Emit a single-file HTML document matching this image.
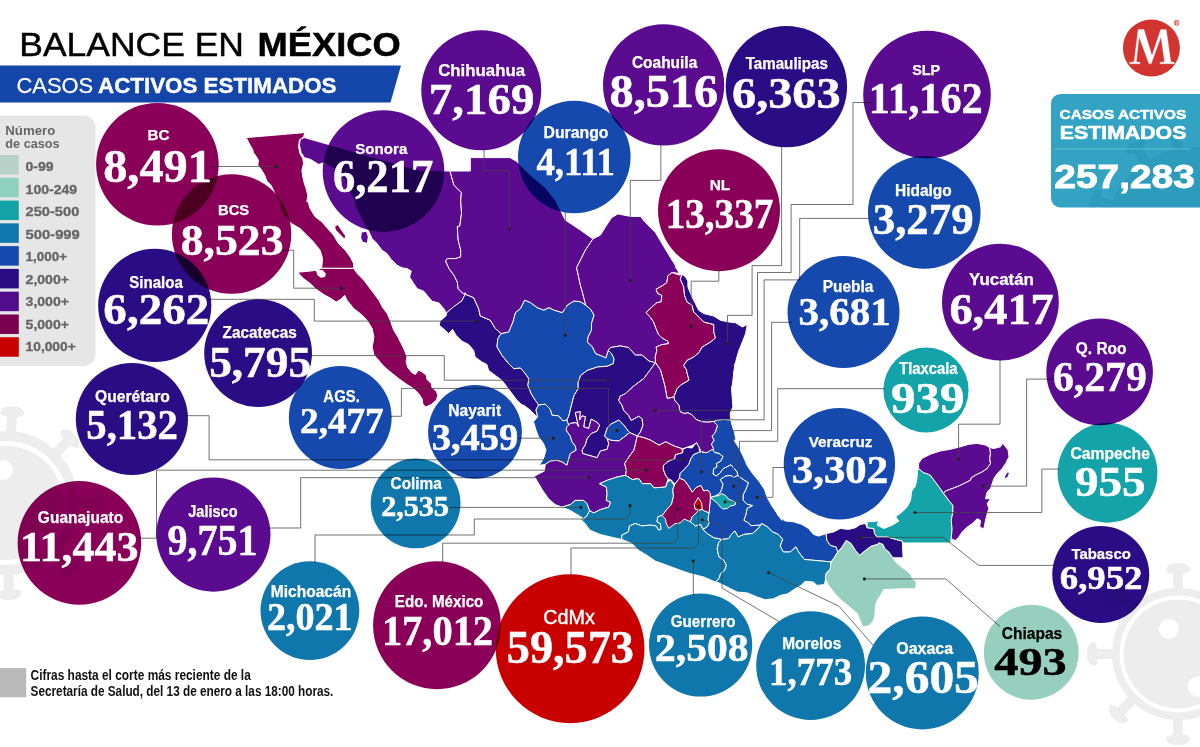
<!DOCTYPE html>
<html><head><meta charset="utf-8"><title>Balance en México</title>
<style>
html,body{margin:0;padding:0;background:#fff;}
body{width:1200px;height:747px;overflow:hidden;position:relative;font-family:"Liberation Sans",sans-serif;}
svg{position:absolute;left:0;top:0;}
.lab{font-family:"Liberation Sans",sans-serif;font-weight:bold;fill:#fff;text-anchor:middle;}
.num{font-family:"Liberation Serif",serif;font-weight:bold;fill:#fff;text-anchor:middle;stroke-width:0.5;}
.st{stroke:#fff;stroke-width:1.0;stroke-linejoin:round;}
.ln{fill:none;stroke:#444;stroke-width:0.75;}
.bub{mix-blend-mode:multiply;}
</style></head><body>
<svg width="1200" height="747" viewBox="0 0 1200 747">
<g id="deco">
<g fill="#ededed">
<circle cx="6" cy="503" r="67.0" fill="none" stroke="#ededed" stroke-width="10"/>
<circle cx="6" cy="503" r="57.0"/>
<g transform="translate(6,503) rotate(4)"><rect x="-5.0" y="-89" width="10" height="19"/><path d="M-12.0,-89 q0,-8 12.0,-8 q12.0,0 12.0,8 q-6.0,2.5 -7.0,2.5 h-10 q-6.0,0 -7.0,-2.5 z"/></g>
<g transform="translate(6,503) rotate(45)"><rect x="-5.0" y="-89" width="10" height="19"/><path d="M-12.0,-89 q0,-8 12.0,-8 q12.0,0 12.0,8 q-6.0,2.5 -7.0,2.5 h-10 q-6.0,0 -7.0,-2.5 z"/></g>
<g transform="translate(6,503) rotate(90)"><rect x="-5.0" y="-89" width="10" height="19"/><path d="M-12.0,-89 q0,-8 12.0,-8 q12.0,0 12.0,8 q-6.0,2.5 -7.0,2.5 h-10 q-6.0,0 -7.0,-2.5 z"/></g>
<g transform="translate(6,503) rotate(135)"><rect x="-5.0" y="-89" width="10" height="19"/><path d="M-12.0,-89 q0,-8 12.0,-8 q12.0,0 12.0,8 q-6.0,2.5 -7.0,2.5 h-10 q-6.0,0 -7.0,-2.5 z"/></g>
<g transform="translate(6,503) rotate(178)"><rect x="-5.0" y="-89" width="10" height="19"/><path d="M-12.0,-89 q0,-8 12.0,-8 q12.0,0 12.0,8 q-6.0,2.5 -7.0,2.5 h-10 q-6.0,0 -7.0,-2.5 z"/></g>
<g transform="translate(6,503) rotate(-45)"><rect x="-5.0" y="-89" width="10" height="19"/><path d="M-12.0,-89 q0,-8 12.0,-8 q12.0,0 12.0,8 q-6.0,2.5 -7.0,2.5 h-10 q-6.0,0 -7.0,-2.5 z"/></g>
</g>
<circle cx="3" cy="470" r="10" fill="#fff"/>
<circle cx="40" cy="540" r="8" fill="#fff"/>
<g fill="#ededed">
<circle cx="1178" cy="654" r="62.2" fill="none" stroke="#ededed" stroke-width="7.5"/>
<circle cx="1178" cy="654" r="54.5"/>
<g transform="translate(1178,654) rotate(0)"><rect x="-5.0" y="-83" width="10" height="19"/><path d="M-12.0,-83 q0,-8 12.0,-8 q12.0,0 12.0,8 q-6.0,2.5 -7.0,2.5 h-10 q-6.0,0 -7.0,-2.5 z"/></g>
<g transform="translate(1178,654) rotate(-45)"><rect x="-5.0" y="-83" width="10" height="19"/><path d="M-12.0,-83 q0,-8 12.0,-8 q12.0,0 12.0,8 q-6.0,2.5 -7.0,2.5 h-10 q-6.0,0 -7.0,-2.5 z"/></g>
<g transform="translate(1178,654) rotate(-90)"><rect x="-5.0" y="-83" width="10" height="19"/><path d="M-12.0,-83 q0,-8 12.0,-8 q12.0,0 12.0,8 q-6.0,2.5 -7.0,2.5 h-10 q-6.0,0 -7.0,-2.5 z"/></g>
<g transform="translate(1178,654) rotate(-135)"><rect x="-5.0" y="-83" width="10" height="19"/><path d="M-12.0,-83 q0,-8 12.0,-8 q12.0,0 12.0,8 q-6.0,2.5 -7.0,2.5 h-10 q-6.0,0 -7.0,-2.5 z"/></g>
<g transform="translate(1178,654) rotate(-180)"><rect x="-5.0" y="-83" width="10" height="19"/><path d="M-12.0,-83 q0,-8 12.0,-8 q12.0,0 12.0,8 q-6.0,2.5 -7.0,2.5 h-10 q-6.0,0 -7.0,-2.5 z"/></g>
<g transform="translate(1178,654) rotate(45)"><rect x="-5.0" y="-83" width="10" height="19"/><path d="M-12.0,-83 q0,-8 12.0,-8 q12.0,0 12.0,8 q-6.0,2.5 -7.0,2.5 h-10 q-6.0,0 -7.0,-2.5 z"/></g>
</g>
<circle cx="1169" cy="629" r="10" fill="#fff"/>
<circle cx="1197.7" cy="686.4" r="10" fill="#fff"/>
</g><g id="header">
<text x="19.3" y="56.3" font-family="Liberation Sans" font-size="33.5" fill="#000" stroke="#000" stroke-width="0.45" textLength="224.6" lengthAdjust="spacingAndGlyphs">BALANCE EN</text>
<text x="257.6" y="56.3" font-family="Liberation Sans" font-weight="bold" font-size="33.5" fill="#000" stroke="#000" stroke-width="0.5" textLength="143" lengthAdjust="spacingAndGlyphs">MÉXICO</text>
<polygon points="0,65.5 401,65.5 390.5,102.5 0,102.5" fill="#1446aa"/>
<text x="16.6" y="93" font-family="Liberation Sans" font-size="21.8" fill="#fff" stroke="#fff" stroke-width="0.25" textLength="76.5" lengthAdjust="spacingAndGlyphs">CASOS</text>
<text x="98" y="93" font-family="Liberation Sans" font-weight="bold" font-size="21.8" fill="#fff" stroke="#fff" stroke-width="0.4" textLength="238.5" lengthAdjust="spacingAndGlyphs">ACTIVOS ESTIMADOS</text>
</g>
<g id="legend"><path d="M0,115.5 H83.9 a11.6,11.6 0 0 1 11.6,11.6 V354.3 a11.6,11.6 0 0 1 -11.6,11.6 H0 Z" fill="#e6e6e6"/><text x="5.3" y="135" font-family="Liberation Sans" font-weight="bold" font-size="12.3" fill="#666" textLength="50" lengthAdjust="spacingAndGlyphs">Número</text><text x="5.3" y="147.6" font-family="Liberation Sans" font-weight="bold" font-size="12.3" fill="#666" textLength="54.4" lengthAdjust="spacingAndGlyphs">de casos</text><rect x="0" y="155.00" width="18.8" height="19.5" fill="#b7d1c8"/><text x="25.6" y="171.30" font-family="Liberation Sans" font-weight="bold" font-size="12.2" fill="#666" stroke="#666" stroke-width="0.3" textLength="28" lengthAdjust="spacingAndGlyphs">0-99</text><rect x="0" y="177.78" width="18.8" height="19.5" fill="#90d0bf"/><text x="25.6" y="193.77" font-family="Liberation Sans" font-weight="bold" font-size="12.2" fill="#666" stroke="#666" stroke-width="0.3" textLength="51.6" lengthAdjust="spacingAndGlyphs">100-249</text><rect x="0" y="200.56" width="18.8" height="19.5" fill="#13a3a8"/><text x="25.6" y="216.24" font-family="Liberation Sans" font-weight="bold" font-size="12.2" fill="#666" stroke="#666" stroke-width="0.3" textLength="53.7" lengthAdjust="spacingAndGlyphs">250-500</text><rect x="0" y="223.34" width="18.8" height="19.5" fill="#0f77ab"/><text x="25.6" y="238.71" font-family="Liberation Sans" font-weight="bold" font-size="12.2" fill="#666" stroke="#666" stroke-width="0.3" textLength="54.2" lengthAdjust="spacingAndGlyphs">500-999</text><rect x="0" y="246.12" width="18.8" height="19.5" fill="#1549ae"/><text x="25.6" y="261.18" font-family="Liberation Sans" font-weight="bold" font-size="12.2" fill="#666" stroke="#666" stroke-width="0.3" textLength="41.4" lengthAdjust="spacingAndGlyphs">1,000+</text><rect x="0" y="268.90" width="18.8" height="19.5" fill="#2a0c85"/><text x="25.6" y="283.65" font-family="Liberation Sans" font-weight="bold" font-size="12.2" fill="#666" stroke="#666" stroke-width="0.3" textLength="43.3" lengthAdjust="spacingAndGlyphs">2,000+</text><rect x="0" y="291.68" width="18.8" height="19.5" fill="#520b8a"/><text x="25.6" y="306.12" font-family="Liberation Sans" font-weight="bold" font-size="12.2" fill="#666" stroke="#666" stroke-width="0.3" textLength="43.3" lengthAdjust="spacingAndGlyphs">3,000+</text><rect x="0" y="314.46" width="18.8" height="19.5" fill="#7a0050"/><text x="25.6" y="328.59" font-family="Liberation Sans" font-weight="bold" font-size="12.2" fill="#666" stroke="#666" stroke-width="0.3" textLength="43.3" lengthAdjust="spacingAndGlyphs">5,000+</text><rect x="0" y="337.24" width="18.8" height="19.5" fill="#c80000"/><text x="25.6" y="351.06" font-family="Liberation Sans" font-weight="bold" font-size="12.2" fill="#666" stroke="#666" stroke-width="0.3" textLength="50.1" lengthAdjust="spacingAndGlyphs">10,000+</text></g>
<g id="map"><polygon class="st" fill="#8a0058" points="246.2,137.6 250.0,145.1 252.6,149.3 253.4,152.6 255.9,156.0 258.4,160.2 257.9,165.2 261.8,170.2 265.1,176.1 266.8,181.1 271.0,185.3 273.5,190.3 276.0,196.2 279.3,202.0 281.0,210.4 285.2,217.1 291.9,223.8 300.0,228.5 306.7,235.1 313.4,241.8 320.1,250.2 322.6,258.6 321.8,266.9 320.9,268.3 353.9,268.3 353.6,263.6 350.2,256.9 345.2,250.2 338.5,243.5 333.5,235.1 327.6,228.5 321.8,221.8 315.1,216.7 310.0,208.4 307.5,200.0 306.9,202.0 307.8,195.3 306.1,188.6 304.4,183.6 302.8,176.9 301.9,170.2 303.6,163.5 302.8,158.5 299.9,153.5 298.6,146.8 299.4,140.1 303.6,136.7 304.9,132.6"/><polygon class="st" fill="#8a0058" points="320.9,268.3 316.7,270.3 310.0,271.1 300.0,272.0 297.7,272.3 303.6,278.5 310.3,283.6 315.3,288.6 323.7,294.4 331.2,298.6 336.2,302.0 340.4,299.5 344.6,295.3 347.1,300.3 353.8,308.7 360.5,313.7 367.2,320.4 372.2,328.7 373.9,337.1 372.2,347.2 373.9,355.0 378.5,360.1 383.5,366.0 390.2,371.8 398.6,378.5 406.9,384.4 413.6,388.6 418.7,393.6 422.0,398.6 422.8,403.6 425.4,407.0 431.2,404.5 436.2,400.3 437.9,395.3 436.2,391.1 432.1,387.7 431.2,383.6 427.0,379.4 426.2,375.2 422.0,371.8 418.7,370.2 415.3,374.4 412.0,372.7 407.8,367.7 406.1,361.8 406.9,356.8 404.4,350.1 401.1,343.4 397.7,336.7 393.6,330.0 390.6,321.2 387.3,313.7 382.3,307.0 378.9,300.3 373.9,293.6 368.9,286.9 363.8,280.2 357.2,273.5 353.8,268.5"/><polygon class="st" fill="#5a0b8f" points="300.3,139.2 304.4,137.6 420.2,170.6 450.1,171.0 450.1,171.3 453.9,185.1 461.4,192.6 460.7,200.0 461.5,213.4 459.8,225.9 457.3,226.8 458.2,240.2 460.7,250.2 460.7,256.9 455.6,258.6 447.3,258.6 445.6,261.1 449.0,268.6 454.0,275.3 457.3,282.0 458.2,288.7 463.2,293.7 465.7,292.9 462.3,300.4 454.0,307.1 446.4,313.0 443.9,308.8 438.9,302.9 432.2,301.3 427.2,295.4 423.8,291.2 417.2,288.7 413.8,283.7 409.6,277.0 411.3,271.1 407.1,268.6 402.1,267.8 397.1,265.3 391.2,259.4 387.0,253.6 382.0,250.2 377.0,243.5 372.0,238.5 368.6,231.0 364.7,225.4 360.5,217.1 355.5,207.0 353.8,198.7 348.8,190.3 343.8,178.6 333.7,168.5 323.7,162.7 318.7,164.4 310.3,159.3 304.4,157.7 301.1,152.6 299.4,145.1 300.3,139.2"/><polygon class="st" fill="#2a0c85" points="465.2,294.2 473.6,297.6 478.6,308.5 480.3,316.0 490.3,320.2 495.3,328.5 501.2,333.6 497.8,338.6 497.0,346.9 502.0,355.3 508.7,363.7 513.7,368.7 520.4,367.9 525.4,373.7 528.8,378.7 527.9,385.4 531.3,393.8 535.5,400.5 540.5,405.0 538.5,405.0 536.0,410.0 537.7,416.7 536.0,415.9 530.1,410.0 523.4,405.0 522.1,405.0 517.1,400.5 512.1,393.8 507.0,387.1 502.0,380.4 495.3,375.4 488.6,370.4 486.9,364.5 481.9,362.0 475.2,357.0 473.6,350.3 468.5,344.4 461.8,341.1 456.0,335.2 452.6,329.4 448.5,333.6 445.1,330.2 439.2,325.2 440.1,321.0 445.9,316.0 446.8,312.6 453.5,306.8 461.8,300.9 465.2,294.2"/><polygon class="st" fill="#1549ae" points="501.2,333.6 508.7,331.9 512.9,321.8 515.4,312.6 520.4,308.5 524.6,300.1 530.5,302.6 537.2,307.6 543.8,310.1 548.9,307.6 553.9,310.1 562.3,312.6 567.3,305.1 574.0,300.9 580.7,301.8 585.7,305.1 590.7,309.3 594.1,315.1 591.5,323.5 591.5,330.2 588.2,336.9 587.4,341.9 592.4,346.9 595.7,353.6 602.4,356.2 605.8,357.8 608.3,350.3 611.6,353.6 614.1,358.7 613.3,363.7 607.4,366.2 597.4,367.0 587.4,370.4 580.7,375.4 578.2,382.1 578.2,388.8 574.0,395.5 571.5,405.0 571.5,405.0 570.3,410.0 568.6,416.7 566.9,420.1 562.8,420.9 558.6,415.9 551.9,415.1 550.2,409.2 545.2,404.2 538.5,405.0 535.5,400.5 531.3,393.8 527.9,385.4 528.8,378.7 525.4,373.7 520.4,367.9 513.7,368.7 508.7,363.7 502.0,355.3 497.0,346.9 497.8,338.6 501.2,333.6"/><polygon class="st" fill="#5a0b8f" points="450.1,171.0 470.3,171.0 470.3,157.6 510.0,157.6 516.5,161.3 530.3,175.0 545.3,187.6 555.3,200.1 565.3,220.1 580.4,230.1 592.9,238.9 585.4,250.2 576.6,267.7 580.4,285.2 582.3,291.7 585.7,305.1 580.7,301.8 574.0,300.9 567.3,305.1 562.3,312.6 553.9,310.1 548.9,307.6 543.8,310.1 537.2,307.6 530.5,302.6 524.6,300.1 520.4,308.5 515.4,312.6 512.9,321.8 508.7,331.9 501.2,333.6 495.3,328.5 490.3,320.2 480.3,316.0 478.6,308.5 473.6,297.6 465.2,294.2 465.7,292.9 463.2,293.7 458.2,288.7 457.3,282.0 454.0,275.3 449.0,268.6 445.6,261.1 447.3,258.6 455.6,258.6 460.7,256.9 460.7,250.2 458.2,240.2 457.3,226.8 459.8,225.9 461.5,213.4 460.7,200.0 461.4,192.6 453.9,185.1 450.1,171.3"/><polygon class="st" fill="#5a0b8f" points="592.9,238.9 600.4,235.1 606.6,225.1 611.7,217.6 617.9,213.9 630.4,216.4 640.5,216.4 645.5,222.6 655.5,232.6 663.0,245.2 670.5,257.7 680.0,272.7 675.3,266.7 679.5,273.4 672.0,272.6 667.8,275.9 666.9,282.6 661.9,286.0 656.1,289.3 657.7,293.5 661.9,295.2 661.1,301.9 656.9,302.7 651.9,306.9 646.0,312.8 650.2,316.9 653.6,322.0 656.1,328.7 658.6,334.5 661.9,337.9 667.8,341.2 668.6,343.7 661.9,344.6 656.1,347.1 656.9,350.4 655.2,357.1 656.1,363.8 648.8,361.0 642.1,355.1 635.4,355.1 628.7,347.6 620.3,345.9 610.3,347.6 608.3,350.3 605.8,357.8 602.4,356.2 595.7,353.6 592.4,346.9 587.4,341.9 588.2,336.9 591.5,330.2 591.5,323.5 594.1,315.1 590.7,309.3 585.7,305.1 582.3,291.7 580.4,285.2 576.6,267.7 585.4,250.2 592.9,238.9"/><polygon class="st" fill="#8a0058" points="672.0,272.6 679.5,275.1 682.0,274.3 680.3,279.3 683.7,286.8 684.5,295.2 687.0,301.9 692.1,305.2 693.7,311.9 698.7,316.9 703.8,322.0 713.8,324.5 713.8,332.0 715.5,337.9 710.5,342.1 702.1,347.1 698.7,352.9 693.7,357.1 687.0,360.5 683.7,365.5 687.0,370.5 686.4,370.2 689.0,380.2 680.6,385.2 677.2,388.6 673.9,396.9 667.2,398.6 664.7,385.2 660.5,370.2 655.5,362.6 655.2,357.1 656.9,350.4 656.1,347.1 661.9,344.6 668.6,343.7 667.8,341.2 661.9,337.9 658.6,334.5 656.1,328.7 653.6,322.0 650.2,316.9 646.0,312.8 651.9,306.9 656.9,302.7 661.1,301.9 661.9,295.2 657.7,293.5 656.1,289.3 661.9,286.0 666.9,282.6 667.8,275.9 672.0,272.6"/><polygon class="st" fill="#2a0c85" points="682.0,274.3 685.4,276.8 687.9,281.0 687.9,286.8 691.2,295.2 695.4,303.6 698.7,310.3 703.8,313.6 713.8,316.1 720.5,320.3 728.9,322.0 735.6,322.8 742.3,327.0 747.3,324.5 745.6,333.7 742.3,342.1 738.9,350.4 736.4,358.8 734.7,367.2 733.9,375.0 735.0,363.5 732.5,383.6 732.5,396.9 733.6,380.0 731.5,388.0 732.2,397.4 732.9,406.8 730.2,413.5 730.9,420.2 724.2,419.5 717.5,420.2 713.5,421.5 706.8,422.2 701.4,421.5 696.1,419.5 692.0,414.8 688.0,412.8 684.0,413.5 680.0,411.5 678.9,405.3 674.7,400.3 673.9,396.9 677.2,388.6 680.6,385.2 689.0,380.2 686.4,370.2 687.0,370.5 683.7,365.5 687.0,360.5 693.7,357.1 698.7,352.9 702.1,347.1 710.5,342.1 715.5,337.9 713.8,332.0 713.8,324.5 703.8,322.0 698.7,316.9 693.7,311.9 692.1,305.2 687.0,301.9 684.5,295.2 683.7,286.8 680.3,279.3 682.0,274.3"/><polygon class="st" fill="#2a0c85" points="610.3,347.6 620.3,345.9 628.7,347.6 635.4,355.1 642.1,355.1 648.8,361.0 655.5,362.6 648.8,371.8 643.8,378.5 633.7,386.1 625.4,393.6 620.3,396.1 618.7,400.3 622.0,405.3 623.7,410.3 628.7,415.4 631.2,420.4 638.7,416.2 642.1,418.7 642.9,425.4 640.4,432.1 637.2,436.0 629.7,432.6 628.9,431.8 623.8,425.1 618.8,420.1 610.5,424.3 607.1,428.5 604.6,436.0 607.1,438.5 608.8,443.5 607.1,449.4 600.4,451.0 597.1,457.7 582.8,453.6 582.0,450.2 585.4,444.4 587.0,438.5 591.2,433.5 597.1,431.0 599.6,425.1 596.2,421.8 591.2,419.2 588.7,428.5 583.7,426.8 585.4,416.7 582.0,415.9 579.5,420.1 580.3,411.7 575.3,412.6 578.7,426.8 576.2,422.6 570.3,423.4 566.9,426.8 568.6,425.1 566.9,420.1 568.6,416.7 570.3,410.0 571.5,405.0 574.0,395.5 578.2,388.8 578.2,382.1 580.7,375.4 587.4,370.4 597.4,367.0 607.4,366.2 613.3,363.7 614.1,358.7 611.6,353.6 608.3,350.3"/><polygon class="st" fill="#1549ae" points="604.6,436.0 607.1,428.5 610.5,424.3 618.8,420.1 623.8,425.1 628.9,431.8 629.7,432.6 625.5,436.0 618.8,441.0 610.5,440.2 607.1,438.5"/><polygon class="st" fill="#5a0b8f" points="655.5,362.6 660.5,370.2 664.7,385.2 667.2,398.6 673.9,396.9 674.7,400.3 678.9,405.3 680.0,411.5 684.0,413.5 688.0,412.8 692.0,414.8 696.1,419.5 701.4,421.5 706.8,422.2 713.5,421.5 717.5,425.5 715.5,432.2 712.1,436.2 714.1,440.2 711.5,444.3 713.5,448.3 712.8,451.0 706.8,453.0 701.4,451.6 698.7,446.9 696.7,442.9 692.0,445.6 688.0,446.9 684.0,448.3 680.0,449.6 681.6,448.5 674.1,446.0 665.7,441.8 659.0,445.2 650.6,440.2 643.9,437.7 637.2,436.0 640.4,432.1 642.9,425.4 642.1,418.7 638.7,416.2 631.2,420.4 628.7,415.4 623.7,410.3 622.0,405.3 618.7,400.3 620.3,396.1 625.4,393.6 633.7,386.1 643.8,378.5 648.8,371.8 655.5,362.6"/><polygon class="st" fill="#1549ae" points="538.5,405.0 545.2,404.2 550.2,409.2 551.9,415.1 558.6,415.9 562.8,420.9 566.9,420.1 568.6,425.1 566.1,430.1 570.3,436.0 572.0,441.8 575.3,446.0 576.2,450.2 570.3,453.6 568.6,459.4 566.9,465.3 561.9,461.9 556.9,460.3 550.2,461.1 545.2,464.4 539.3,465.3 543.5,458.6 546.0,450.2 543.5,443.5 538.5,436.8 536.0,430.1 533.5,421.8 537.7,416.7 536.0,410.0"/><polygon class="st" fill="#5a0b8f" points="566.9,426.8 570.3,423.4 576.2,422.6 578.7,426.8 575.3,412.6 580.3,411.7 579.5,420.1 582.0,415.9 585.4,416.7 583.7,426.8 588.7,428.5 591.2,419.2 596.2,421.8 599.6,425.1 597.1,431.0 591.2,433.5 587.0,438.5 585.4,444.4 582.0,450.2 582.8,453.6 597.1,457.7 600.4,451.0 607.1,449.4 608.8,443.5 607.1,438.5 610.5,440.2 618.8,441.0 625.5,436.0 629.7,432.6 637.2,436.0 635.6,443.5 633.9,450.2 628.9,456.9 624.7,463.6 626.4,470.3 625.5,475.3 617.2,477.0 607.1,480.3 599.6,483.7 606.3,487.0 607.1,493.7 606.3,500.4 610.5,502.1 608.8,507.1 600.4,509.6 593.7,513.0 589.5,510.5 587.0,503.8 583.7,500.4 575.3,500.4 570.3,504.6 561.9,507.1 555.2,504.6 548.5,498.7 542.7,490.4 537.7,482.0 534.3,476.2 539.3,473.6 544.4,471.1 545.2,464.4 550.2,461.1 556.9,460.3 561.9,461.9 566.9,465.3 568.6,459.4 570.3,453.6 576.2,450.2 575.3,446.0 572.0,441.8 570.3,436.0 566.1,430.1"/><polygon class="st" fill="#8a0058" points="637.2,436.0 643.9,437.7 650.6,440.2 659.0,445.2 665.7,441.8 674.1,446.0 681.6,448.5 682.8,452.7 675.5,454.7 674.8,458.7 668.1,461.4 663.4,465.4 663.4,469.5 665.4,474.8 668.1,478.8 665.7,487.0 654.0,487.9 650.6,483.7 642.3,483.7 638.9,478.7 632.2,479.5 625.5,475.3 626.4,470.3 624.7,463.6 628.9,456.9 633.9,450.2 635.6,443.5"/><polygon class="st" fill="#2a0c85" points="682.8,449.4 686.9,447.4 692.2,448.0 696.2,442.7 698.9,446.7 699.6,452.0 693.6,454.7 690.9,458.7 688.9,464.1 684.2,469.5 680.2,473.5 679.5,478.2 674.8,484.2 671.5,480.2 668.1,478.8 665.4,474.8 663.4,469.5 663.4,465.4 668.1,461.4 674.8,458.7 675.5,454.7 682.8,452.7"/><polygon class="st" fill="#0f77ab" points="599.6,483.7 607.1,480.3 617.2,477.0 625.5,475.3 632.2,479.5 638.9,478.7 642.3,483.7 650.6,483.7 654.0,487.9 665.7,487.0 667.4,482.0 670.7,480.3 674.1,485.4 674.8,484.2 672.8,489.5 673.5,496.2 671.5,504.3 666.8,509.6 662.1,515.6 657.8,516.8 657.0,521.8 660.3,523.5 661.2,529.3 658.7,530.2 656.2,526.0 650.3,525.1 641.9,526.0 635.2,523.5 629.4,526.0 628.5,531.8 621.8,535.2 621.8,539.4 613.5,537.7 600.1,534.4 590.0,530.2 585.0,523.5 580.0,518.5 583.7,518.8 587.0,515.5 589.5,510.5 593.7,513.0 600.4,509.6 608.8,507.1 610.5,502.1 606.3,500.4 607.1,493.7 606.3,487.0"/><polygon class="st" fill="#0f77ab" points="561.9,507.1 570.3,504.6 575.3,500.4 583.7,500.4 587.0,503.8 589.5,510.5 587.0,515.5 583.7,518.8 578.7,515.5 570.3,510.5"/><polygon class="st" fill="#0f77ab" points="621.8,539.4 621.8,535.2 628.5,531.8 629.4,526.0 635.2,523.5 641.9,526.0 650.3,525.1 656.2,526.0 658.7,530.2 661.2,529.3 660.3,523.5 657.0,521.8 657.8,516.8 662.8,515.1 667.0,520.1 668.7,527.7 673.7,523.5 680.4,520.1 685.4,518.5 690.5,521.8 695.5,526.0 700.5,524.3 703.0,529.3 707.2,533.5 713.9,537.7 722.3,539.4 718.9,541.9 717.2,548.6 718.9,556.9 723.9,560.3 726.4,565.3 724.8,570.3 720.6,573.7 718.9,578.7 715.6,582.1 703.8,577.0 690.5,573.7 680.4,570.3 667.0,565.3 655.3,561.1 646.9,555.3 638.6,550.3 631.9,543.6"/><polygon class="st" fill="#1549ae" points="730.9,420.2 732.2,425.5 734.2,432.2 736.2,440.2 733.7,440.0 739.1,448.0 743.1,456.1 747.1,465.4 752.5,473.5 759.2,481.5 764.5,489.5 767.2,497.6 772.5,506.9 779.2,516.3 781.9,520.3 767.5,496.7 773.4,506.8 778.4,516.0 785.1,521.0 793.5,521.8 801.8,524.4 808.5,528.5 813.6,534.4 818.6,536.1 826.1,533.6 826.9,540.3 830.3,545.3 836.2,546.9 837.8,552.0 833.6,558.7 831.1,562.0 823.6,561.2 813.6,560.3 804.4,559.5 801.0,555.3 797.7,550.3 796.0,546.9 790.1,552.0 783.4,552.0 780.1,546.1 782.6,539.4 778.4,534.4 772.6,531.9 767.5,526.9 761.7,523.5 760.8,525.1 751.1,525.7 748.4,523.0 743.8,520.3 745.8,515.0 747.1,508.3 752.5,505.6 747.1,504.3 743.1,500.2 743.1,494.9 745.8,489.5 748.4,482.8 743.1,479.5 737.7,475.5 737.1,472.1 733.7,468.1 731.0,464.8 727.0,466.8 723.0,468.8 720.3,472.8 716.3,476.1 713.0,474.1 713.6,468.8 717.0,466.8 716.3,463.4 720.3,461.4 723.0,456.7 719.0,453.4 715.0,452.7 712.3,449.4 712.8,451.0 713.5,448.3 711.5,444.3 714.1,440.2 712.1,436.2 715.5,432.2 717.5,425.5 713.5,421.5 717.5,420.2 724.2,419.5"/><polygon class="st" fill="#1549ae" points="699.6,452.0 706.9,452.7 712.3,449.4 715.0,452.7 719.0,453.4 723.0,456.7 720.3,461.4 716.3,463.4 717.0,466.8 713.6,468.8 713.0,474.1 716.3,476.1 720.3,472.8 723.0,468.8 727.0,466.8 731.0,464.8 733.7,468.1 737.1,472.1 737.7,475.5 733.7,477.5 731.0,475.5 725.7,476.1 720.3,479.5 723.0,484.2 721.7,489.5 719.7,493.6 715.0,496.2 710.3,497.6 710.3,493.6 707.6,490.2 703.6,490.9 700.9,485.5 696.2,487.5 692.2,492.2 688.2,485.5 684.2,480.2 679.5,478.2 680.2,473.5 684.2,469.5 688.9,464.1 690.9,458.7 693.6,454.7"/><polygon class="st" fill="#1549ae" points="720.3,479.5 725.7,476.1 731.0,475.5 733.7,477.5 737.7,475.5 743.1,479.5 748.4,482.8 745.8,489.5 743.1,494.9 743.1,500.2 747.1,504.3 752.5,505.6 747.1,508.3 745.8,515.0 743.8,520.3 748.4,523.0 751.1,525.7 760.8,525.1 757.4,529.3 752.4,533.5 744.0,534.4 738.2,536.9 734.8,531.0 730.6,535.2 729.0,538.5 722.3,539.4 713.9,537.7 707.2,533.5 703.0,529.3 707.2,526.8 708.9,523.5 708.0,518.5 708.9,513.4 709.0,513.0 709.6,506.9 710.3,498.9 710.3,497.6 715.0,496.2 719.7,493.6 721.7,489.5 723.0,484.2"/><polygon class="st" fill="#8a0058" points="679.5,478.2 684.2,480.2 688.2,485.5 692.2,492.2 696.2,487.5 700.9,485.5 703.6,490.9 707.6,490.2 710.3,493.6 710.3,498.9 709.6,506.9 709.0,513.0 704.3,511.0 702.3,509.6 698.9,510.3 697.2,511.8 692.1,516.9 690.5,521.8 684.2,519.0 680.2,523.0 674.8,523.7 668.8,528.4 666.1,523.0 665.4,519.0 662.1,515.6 666.8,509.6 671.5,504.3 673.5,496.2 672.8,489.5 674.8,484.2"/><polygon class="st" fill="#c80000" points="698.2,497.6 701.6,502.9 702.3,509.6 698.9,510.3 694.9,509.0 694.2,504.3"/><polygon class="st" fill="#0f77ab" points="690.5,521.8 692.1,516.8 697.2,511.8 698.9,510.3 702.3,509.6 704.3,511.0 709.0,513.0 708.9,513.4 708.0,518.5 708.9,523.5 707.2,526.8 703.0,529.3 700.5,524.3 695.5,526.0"/><polygon class="st" fill="#13a3a8" points="710.3,497.6 715.0,496.2 719.0,495.6 721.7,493.6 725.7,495.6 728.4,498.9 732.4,500.9 735.7,502.3 735.1,504.9 729.7,506.3 727.7,508.3 723.0,509.0 720.3,506.9 717.0,502.9 713.6,500.2"/><polygon class="st" fill="#0f77ab" points="718.9,541.9 722.3,539.4 729.0,538.5 730.6,535.2 734.8,531.0 738.2,536.9 744.0,534.4 752.4,533.5 757.4,529.3 760.8,525.1 761.7,523.5 767.5,526.9 772.6,531.9 778.4,534.4 782.6,539.4 780.1,546.1 783.4,552.0 790.1,552.0 796.0,546.9 797.7,550.3 801.0,555.3 804.4,559.5 813.6,560.3 823.6,561.2 831.1,562.0 830.3,568.7 826.1,573.7 825.3,580.4 824.4,584.6 816.9,585.4 813.6,582.1 805.2,581.3 801.0,585.4 795.1,588.8 787.6,593.8 780.1,595.5 773.4,598.8 765.0,599.7 757.4,597.1 747.4,592.9 737.3,592.1 727.3,587.1 718.9,582.9 715.6,582.1 718.9,578.7 720.6,573.7 724.8,570.3 726.4,565.3 723.9,560.3 718.9,556.9 717.2,548.6"/><polygon class="st" fill="#97cfbe" points="831.1,562.0 833.6,558.7 837.8,552.0 842.0,546.9 846.2,540.3 851.2,543.6 855.4,550.3 859.6,555.3 865.4,550.3 871.3,546.1 877.2,544.4 878.8,542.8 883.0,544.4 884.7,548.6 888.9,552.0 892.2,557.0 895.6,562.0 900.6,566.2 907.3,571.2 911.5,575.4 912.3,578.7 916.5,582.1 915.6,588.8 902.3,588.8 883.8,589.6 880.5,595.5 877.2,600.5 875.5,605.0 874.8,616.4 872.8,621.8 868.8,625.8 862.8,627.1 857.4,613.7 848.0,605.7 840.0,599.0 833.6,592.1 828.6,585.4 826.1,580.4 825.3,577.1 826.1,573.7 830.3,568.7"/><polygon class="st" fill="#2a0c85" points="826.1,533.6 833.6,531.9 840.3,528.5 848.7,529.4 855.4,527.7 860.4,524.4 865.4,523.5 867.1,527.7 873.8,528.5 874.6,533.6 877.2,536.9 887.2,536.9 902.3,541.1 903.1,557.8 893.9,557.8 892.2,557.0 888.9,552.0 884.7,548.6 883.0,544.4 878.8,542.8 877.2,544.4 871.3,546.1 865.4,550.3 859.6,555.3 855.4,550.3 851.2,543.6 846.2,540.3 842.0,546.9 837.8,552.0 836.2,546.9 830.3,545.3 826.9,540.3"/><polygon class="st" fill="#13a3a8" points="918.6,468.5 923.6,472.7 926.9,473.6 930.3,475.2 935.3,481.9 940.3,488.6 943.7,493.6 948.7,500.3 952.9,505.4 952.9,512.1 951.2,520.4 952.1,528.8 951.2,538.8 950.4,543.0 926.9,543.0 903.5,543.0 902.3,541.1 887.2,536.9 877.2,536.9 874.6,533.6 873.8,528.5 867.1,527.7 867.1,521.8 878.8,521.0 877.2,525.2 883.8,528.5 892.2,525.2 898.9,521.0 895.6,516.8 902.3,511.8 907.3,506.8 910.6,500.1 911.5,491.7 915.6,485.0 915.2,486.9 916.9,478.6 917.7,470.2"/><polygon class="st" fill="#5a0b8f" points="918.6,463.5 921.9,458.5 930.3,454.3 940.3,451.0 950.4,449.3 960.4,446.8 968.8,444.3 977.2,443.4 985.5,445.1 989.7,447.6 990.5,453.5 989.7,458.5 990.5,463.5 987.2,468.5 982.2,471.9 975.5,475.2 971.3,477.7 970.5,480.3 965.4,482.8 958.7,486.1 952.1,488.6 945.4,491.1 943.7,493.6 940.3,488.6 935.3,481.9 930.3,475.2 926.9,473.6 923.6,472.7 918.6,468.5"/><polygon class="st" fill="#5a0b8f" points="989.7,447.6 993.9,448.5 1000.6,446.8 1002.3,443.4 1005.6,446.8 1008.1,450.1 1009.0,456.8 1005.6,463.5 1002.3,468.5 997.2,473.6 993.9,478.6 992.2,483.6 990.5,488.6 987.2,492.0 985.5,498.7 990.5,498.7 987.2,503.7 988.9,508.7 987.2,513.7 985.5,520.4 983.8,528.8 979.7,527.1 980.5,520.4 977.2,518.7 972.1,523.8 967.1,527.1 962.1,532.1 958.7,537.2 955.4,540.5 951.2,538.8 952.1,528.8 951.2,520.4 952.9,512.1 952.9,505.4 948.7,500.3 943.7,493.6 945.4,491.1 952.1,488.6 958.7,486.1 965.4,482.8 970.5,480.3 971.3,477.7 975.5,475.2 982.2,471.9 987.2,468.5 990.5,463.5 989.7,458.5 990.5,453.5"/><polygon fill="#8a0058" points="335.1,226.8 337.7,225.1 341.0,230.1 345.2,236.0 344.4,238.5 340.2,234.3 336.0,230.1"/><polygon fill="#5a0b8f" points="361.9,232.6 366.1,231.8 367.8,236.8 366.9,242.7 362.8,241.8 361.1,237.7"/><polygon fill="#5a0b8f" points="1004.8,476.9 1007.3,472.7 1009.0,472.7 1007.3,476.9 1005.3,478.1"/><polygon fill="#fff" points="315.9,271.1 318.4,269.5 322.6,270.3 325.9,273.6 325.1,277.0 320.9,277.8 317.6,275.3"/></g>
<g id="lines"><polyline class="ln" points="276.0,166.5 211.0,166.5"/><circle cx="276" cy="166.5" r="1.6" fill="#222"/><polyline class="ln" points="341.3,288.2 293.7,288.2 293.7,250.2 282.0,250.2"/><circle cx="341.3" cy="288.2" r="1.6" fill="#222"/><polyline class="ln" points="476.1,321.1 314.3,321.1 314.3,299.3 209.0,299.3"/><circle cx="476.1" cy="321.1" r="1.6" fill="#222"/><polyline class="ln" points="608.3,380.2 444.3,380.2 444.3,355.6 310.0,355.6"/><circle cx="608.3" cy="380.2" r="1.6" fill="#222"/><polyline class="ln" points="683.3,459.8 209.1,459.8 209.1,415.7 186.0,415.7"/><circle cx="683.3" cy="459.8" r="1.6" fill="#222"/><polyline class="ln" points="646.0,470.2 156.5,470.2 156.5,538.2 139.0,538.2"/><circle cx="646" cy="470.2" r="1.6" fill="#222"/><polyline class="ln" points="589.0,477.7 300.7,477.7 300.7,528.0 268.0,528.0"/><circle cx="589" cy="477.7" r="1.6" fill="#222"/><polyline class="ln" points="617.0,430.4 608.6,430.4 608.6,388.4 401.4,388.4 401.4,416.3 390.0,416.3"/><circle cx="617" cy="430.4" r="1.6" fill="#222"/><polyline class="ln" points="553.4,438.2 518.0,438.2"/><circle cx="553.4" cy="438.2" r="1.6" fill="#222"/><polyline class="ln" points="580.7,507.4 450.0,507.4"/><circle cx="580.7" cy="507.4" r="1.6" fill="#222"/><polyline class="ln" points="630.0,505.7 630.0,515.0 626.0,519.0 474.3,519.0 474.3,535.0 315.0,535.0 315.0,563.0"/><circle cx="630" cy="505.7" r="1.6" fill="#222"/><polyline class="ln" points="677.7,509.1 677.7,538.3 673.0,543.2 442.7,543.2 442.7,563.0"/><circle cx="677.7" cy="509.1" r="1.6" fill="#222"/><polyline class="ln" points="698.5,506.7 698.5,543.5 694.5,548.0 571.0,548.0 571.0,576.0"/><circle cx="698.5" cy="506.7" r="1.6" fill="#222"/><polyline class="ln" points="693.3,561.1 693.3,595.0"/><circle cx="693.3" cy="561.1" r="1.6" fill="#222"/><polyline class="ln" points="702.2,519.8 722.0,526.0 722.0,588.0 779.0,621.5"/><circle cx="702.2" cy="519.8" r="1.6" fill="#222"/><polyline class="ln" points="768.5,572.5 839.1,606.3 873.0,645.2"/><circle cx="768.5" cy="572.5" r="1.6" fill="#222"/><polyline class="ln" points="864.4,578.9 945.8,578.9 1000.0,626.5"/><circle cx="864.4" cy="578.9" r="1.6" fill="#222"/><polyline class="ln" points="860.5,537.4 943.1,537.4 978.6,565.4 1054.0,565.4"/><circle cx="860.5" cy="537.4" r="1.6" fill="#222"/><polyline class="ln" points="915.0,512.5 1041.8,512.5 1041.8,469.1 1059.0,469.1"/><circle cx="915" cy="512.5" r="1.6" fill="#222"/><polyline class="ln" points="983.2,486.1 1026.6,486.1 1026.6,379.1 1055.0,379.1"/><circle cx="983.2" cy="486.1" r="1.6" fill="#222"/><polyline class="ln" points="958.6,459.2 958.6,424.2 1000.0,424.2 1000.0,359.0"/><circle cx="958.6" cy="459.2" r="1.6" fill="#222"/><polyline class="ln" points="725.0,501.9 739.5,501.9 739.5,441.3 777.7,441.3 777.7,388.7 885.0,388.7"/><circle cx="725" cy="501.9" r="1.6" fill="#222"/><polyline class="ln" points="757.2,497.3 773.0,497.3 773.0,467.5 785.0,467.5"/><circle cx="757.2" cy="497.3" r="1.6" fill="#222"/><polyline class="ln" points="733.7,486.2 733.7,430.6 771.6,430.6 771.6,322.3 792.0,322.3"/><circle cx="733.7" cy="486.2" r="1.6" fill="#222"/><polyline class="ln" points="701.4,471.8 701.4,419.8 764.1,419.8 764.1,279.9 799.7,279.9 799.7,218.4 869.0,218.4"/><circle cx="701.4" cy="471.8" r="1.6" fill="#222"/><polyline class="ln" points="655.1,410.4 757.5,410.4 757.5,272.5 791.1,272.5 791.1,204.5 853.0,204.5 853.0,102.5 872.0,102.5"/><circle cx="655.1" cy="410.4" r="1.6" fill="#222"/><polyline class="ln" points="691.2,326.2 691.2,281.2 718.8,281.2 718.8,270.0"/><circle cx="691.2" cy="326.2" r="1.6" fill="#222"/><polyline class="ln" points="727.5,343.7 727.5,315.3 752.1,315.3 752.1,265.6 781.6,265.6 781.6,146.0"/><circle cx="727.5" cy="343.7" r="1.6" fill="#222"/><polyline class="ln" points="630.3,280.5 630.3,180.4 660.9,180.4 660.9,144.0"/><circle cx="630.3" cy="280.5" r="1.6" fill="#222"/><polyline class="ln" points="565.3,335.3 565.3,212.0"/><circle cx="565.3" cy="335.3" r="1.6" fill="#222"/><polyline class="ln" points="509.4,229.1 509.4,170.7 484.1,170.7 484.1,149.0"/><circle cx="509.4" cy="229.1" r="1.6" fill="#222"/></g>
<g id="bubbles"><circle class="bub" cx="157.4" cy="164.25" r="61.3" fill="#8a0058"/><circle class="bub" cx="231.6" cy="234" r="59.7" fill="#8a0058"/><circle class="bub" cx="154.75" cy="305.4" r="56.6" fill="#2a0c85"/><circle class="bub" cx="258.1" cy="353.1" r="53.9" fill="#2a0c85"/><circle class="bub" cx="131.9" cy="419" r="56.1" fill="#2a0c85"/><circle class="bub" cx="79.4" cy="542.9" r="61.8" fill="#8a0058"/><circle class="bub" cx="213.4" cy="534.6" r="57.1" fill="#5a0b8f"/><circle class="bub" cx="340.25" cy="417.5" r="51.4" fill="#1549ae"/><circle class="bub" cx="475" cy="431.9" r="46.9" fill="#1549ae"/><circle class="bub" cx="415.6" cy="503.4" r="44.9" fill="#0f77ab"/><circle class="bub" cx="309.9" cy="610.6" r="49.4" fill="#0f77ab"/><circle class="bub" cx="437" cy="625.25" r="63.9" fill="#8a0058"/><circle class="bub" cx="570.1" cy="648.75" r="74.4" fill="#c80000"/><circle class="bub" cx="700.6" cy="645" r="51.6" fill="#0f77ab"/><circle class="bub" cx="810.6" cy="665.6" r="54.4" fill="#0f77ab"/><circle class="bub" cx="922.25" cy="672.9" r="56.5" fill="#0f77ab"/><circle class="bub" cx="1031.25" cy="652.25" r="47.4" fill="#97cfbe"/><circle class="bub" cx="1100.75" cy="574.5" r="48.5" fill="#2a0c85"/><circle class="bub" cx="1107.5" cy="472.75" r="49.9" fill="#13a3a8"/><circle class="bub" cx="1099.6" cy="371.9" r="53.3" fill="#5a0b8f"/><circle class="bub" cx="1000.4" cy="302.1" r="58.4" fill="#5a0b8f"/><circle class="bub" cx="926" cy="390" r="42.6" fill="#13a3a8"/><circle class="bub" cx="839.4" cy="463.75" r="55.7" fill="#1549ae"/><circle class="bub" cx="843.5" cy="312.1" r="56" fill="#1549ae"/><circle class="bub" cx="924.25" cy="212.4" r="56.3" fill="#1549ae"/><circle class="bub" cx="927" cy="94.6" r="63.8" fill="#5a0b8f"/><circle class="bub" cx="719" cy="210.25" r="61" fill="#8a0058"/><circle class="bub" cx="786.4" cy="86.6" r="60.7" fill="#2a0c85"/><circle class="bub" cx="663.6" cy="84.9" r="60.6" fill="#5a0b8f"/><circle class="bub" cx="574.3" cy="157" r="56.3" fill="#1549ae"/><circle class="bub" cx="481.25" cy="90.3" r="60" fill="#5a0b8f"/><circle class="bub" cx="383.5" cy="171.1" r="60.8" fill="#5a0b8f"/></g>
<g id="labels"><text class="lab" x="158.4" y="140.2" font-size="15.0" style="fill:#fff;stroke:#fff;stroke-width:0.25" textLength="22.0" lengthAdjust="spacingAndGlyphs">BC</text><text class="num" x="157.5" y="182.3" font-size="45.4" style="fill:#fff;stroke:#fff" textLength="108.6" lengthAdjust="spacingAndGlyphs">8,491</text><text class="lab" x="233.6" y="215.1" font-size="15.0" style="fill:#fff;stroke:#fff;stroke-width:0.25" textLength="31.2" lengthAdjust="spacingAndGlyphs">BCS</text><text class="num" x="232.1" y="255.2" font-size="43.8" style="fill:#fff;stroke:#fff" textLength="102.9" lengthAdjust="spacingAndGlyphs">8,523</text><text class="lab" x="156.1" y="287.8" font-size="15.6" style="fill:#fff;stroke:#fff;stroke-width:0.25" textLength="53.6" lengthAdjust="spacingAndGlyphs">Sinaloa</text><text class="num" x="156.3" y="323.9" font-size="43.8" style="fill:#fff;stroke:#fff" textLength="105.9" lengthAdjust="spacingAndGlyphs">6,262</text><text class="lab" x="259.7" y="338.3" font-size="15.6" style="fill:#fff;stroke:#fff;stroke-width:0.25" textLength="74.2" lengthAdjust="spacingAndGlyphs">Zacatecas</text><text class="num" x="260.1" y="376.6" font-size="43.5" style="fill:#fff;stroke:#fff" textLength="101.9" lengthAdjust="spacingAndGlyphs">5,795</text><text class="lab" x="132.4" y="402.2" font-size="15.6" style="fill:#fff;stroke:#fff;stroke-width:0.25" textLength="74.8" lengthAdjust="spacingAndGlyphs">Querétaro</text><text class="num" x="132.1" y="438.5" font-size="42.7" style="fill:#fff;stroke:#fff" textLength="91.7" lengthAdjust="spacingAndGlyphs">5,132</text><text class="lab" x="80.5" y="523.1" font-size="15.6" style="fill:#fff;stroke:#fff;stroke-width:0.25" textLength="85.3" lengthAdjust="spacingAndGlyphs">Guanajuato</text><text class="num" x="79.2" y="561.4" font-size="42.7" style="fill:#fff;stroke:#fff" textLength="118.4" lengthAdjust="spacingAndGlyphs">11,443</text><text class="lab" x="212.9" y="516.8" font-size="15.6" style="fill:#fff;stroke:#fff;stroke-width:0.25" textLength="49.2" lengthAdjust="spacingAndGlyphs">Jalisco</text><text class="num" x="212.6" y="555.1" font-size="43.5" style="fill:#fff;stroke:#fff" textLength="90.0" lengthAdjust="spacingAndGlyphs">9,751</text><text class="lab" x="341.6" y="401.6" font-size="15.6" style="fill:#fff;stroke:#fff;stroke-width:0.25" textLength="36.5" lengthAdjust="spacingAndGlyphs">AGS.</text><text class="num" x="341.9" y="432.8" font-size="36.7" style="fill:#fff;stroke:#fff" textLength="83.6" lengthAdjust="spacingAndGlyphs">2,477</text><text class="lab" x="474.7" y="415.8" font-size="15.6" style="fill:#fff;stroke:#fff;stroke-width:0.25" textLength="52.8" lengthAdjust="spacingAndGlyphs">Nayarit</text><text class="num" x="475.0" y="450.3" font-size="37.7" style="fill:#fff;stroke:#fff" textLength="86.7" lengthAdjust="spacingAndGlyphs">3,459</text><text class="lab" x="416.2" y="489.1" font-size="15.6" style="fill:#fff;stroke:#fff;stroke-width:0.25" textLength="51.2" lengthAdjust="spacingAndGlyphs">Colima</text><text class="num" x="415.0" y="515.6" font-size="28.7" style="fill:#fff;stroke:#fff" textLength="67.7" lengthAdjust="spacingAndGlyphs">2,535</text><text class="lab" x="311.0" y="596.7" font-size="15.6" style="fill:#fff;stroke:#fff;stroke-width:0.25" textLength="80.3" lengthAdjust="spacingAndGlyphs">Michoacán</text><text class="num" x="309.8" y="629.8" font-size="40.5" style="fill:#fff;stroke:#fff" textLength="85.8" lengthAdjust="spacingAndGlyphs">2,021</text><text class="lab" x="439.1" y="606.6" font-size="15.6" style="fill:#fff;stroke:#fff;stroke-width:0.25" textLength="88.5" lengthAdjust="spacingAndGlyphs">Edo. México</text><text class="num" x="437.5" y="644.8" font-size="42.6" style="fill:#fff;stroke:#fff" textLength="111.2" lengthAdjust="spacingAndGlyphs">17,012</text><text class="lab" x="569.0" y="623.8" font-size="20.6" style="fill:#fff;font-weight:normal;stroke:#fff;stroke-width:0.45" textLength="51.5" lengthAdjust="spacingAndGlyphs">CdMx</text><text class="num" x="570.4" y="662.6" font-size="45.6" style="fill:#fff;stroke:#fff" textLength="127.1" lengthAdjust="spacingAndGlyphs">59,573</text><text class="lab" x="703.2" y="626.6" font-size="15.6" style="fill:#fff;stroke:#fff;stroke-width:0.25" textLength="64.7" lengthAdjust="spacingAndGlyphs">Guerrero</text><text class="num" x="701.8" y="660.6" font-size="39.2" style="fill:#fff;stroke:#fff" textLength="93.5" lengthAdjust="spacingAndGlyphs">2,508</text><text class="lab" x="811.7" y="648.7" font-size="15.6" style="fill:#fff;stroke:#fff;stroke-width:0.25" textLength="59.1" lengthAdjust="spacingAndGlyphs">Morelos</text><text class="num" x="810.6" y="684.7" font-size="40.5" style="fill:#fff;stroke:#fff" textLength="83.0" lengthAdjust="spacingAndGlyphs">1,773</text><text class="lab" x="924.7" y="654.1" font-size="15.6" style="fill:#fff;stroke:#fff;stroke-width:0.25" textLength="56.8" lengthAdjust="spacingAndGlyphs">Oaxaca</text><text class="num" x="923.2" y="692.6" font-size="46.0" style="fill:#fff;stroke:#fff" textLength="111.3" lengthAdjust="spacingAndGlyphs">2,605</text><text class="lab" x="1032.0" y="638.5" font-size="15.6" style="fill:#000;stroke:#000;stroke-width:0.25" textLength="60.5" lengthAdjust="spacingAndGlyphs">Chiapas</text><text class="num" x="1030.5" y="674.8" font-size="40.6" style="fill:#000;stroke:#000" textLength="72.3" lengthAdjust="spacingAndGlyphs">493</text><text class="lab" x="1101.1" y="558.6" font-size="15.1" style="fill:#fff;stroke:#fff;stroke-width:0.25" textLength="59.4" lengthAdjust="spacingAndGlyphs">Tabasco</text><text class="num" x="1101.1" y="589.0" font-size="33.2" style="fill:#fff;stroke:#fff" textLength="82.6" lengthAdjust="spacingAndGlyphs">6,952</text><text class="lab" x="1110.2" y="459.1" font-size="15.6" style="fill:#fff;stroke:#fff;stroke-width:0.25" textLength="79.6" lengthAdjust="spacingAndGlyphs">Campeche</text><text class="num" x="1110.2" y="496.0" font-size="41.8" style="fill:#fff;stroke:#fff" textLength="70.5" lengthAdjust="spacingAndGlyphs">955</text><text class="lab" x="1101.1" y="354.1" font-size="15.6" style="fill:#fff;stroke:#fff;stroke-width:0.25" textLength="50.6" lengthAdjust="spacingAndGlyphs">Q. Roo</text><text class="num" x="1099.9" y="391.0" font-size="41.8" style="fill:#fff;stroke:#fff" textLength="93.8" lengthAdjust="spacingAndGlyphs">6,279</text><text class="lab" x="1001.5" y="285.3" font-size="15.6" style="fill:#fff;stroke:#fff;stroke-width:0.25" textLength="64.8" lengthAdjust="spacingAndGlyphs">Yucatán</text><text class="num" x="1001.6" y="323.7" font-size="44.8" style="fill:#fff;stroke:#fff" textLength="104.3" lengthAdjust="spacingAndGlyphs">6,417</text><text class="lab" x="928.4" y="374.0" font-size="15.6" style="fill:#fff;stroke:#fff;stroke-width:0.25" textLength="58.4" lengthAdjust="spacingAndGlyphs">Tlaxcala</text><text class="num" x="927.7" y="412.9" font-size="43.6" style="fill:#fff;stroke:#fff" textLength="73.3" lengthAdjust="spacingAndGlyphs">939</text><text class="lab" x="840.6" y="447.2" font-size="15.1" style="fill:#fff;stroke:#fff;stroke-width:0.25" textLength="63.8" lengthAdjust="spacingAndGlyphs">Veracruz</text><text class="num" x="840.0" y="482.7" font-size="39.8" style="fill:#fff;stroke:#fff" textLength="96.4" lengthAdjust="spacingAndGlyphs">3,302</text><text class="lab" x="848.0" y="292.4" font-size="15.6" style="fill:#fff;stroke:#fff;stroke-width:0.25" textLength="50.7" lengthAdjust="spacingAndGlyphs">Puebla</text><text class="num" x="844.7" y="325.1" font-size="40.6" style="fill:#fff;stroke:#fff" textLength="92.2" lengthAdjust="spacingAndGlyphs">3,681</text><text class="lab" x="923.4" y="195.7" font-size="15.6" style="fill:#fff;stroke:#fff;stroke-width:0.25" textLength="56.7" lengthAdjust="spacingAndGlyphs">Hidalgo</text><text class="num" x="923.2" y="233.9" font-size="44.4" style="fill:#fff;stroke:#fff" textLength="101.0" lengthAdjust="spacingAndGlyphs">3,279</text><text class="lab" x="926.2" y="75.1" font-size="15.1" style="fill:#fff;stroke:#fff;stroke-width:0.25" textLength="28.1" lengthAdjust="spacingAndGlyphs">SLP</text><text class="num" x="925.8" y="112.8" font-size="43.5" style="fill:#fff;stroke:#fff" textLength="113.9" lengthAdjust="spacingAndGlyphs">11,162</text><text class="lab" x="720.0" y="190.2" font-size="15.1" style="fill:#fff;stroke:#fff;stroke-width:0.25" textLength="20.6" lengthAdjust="spacingAndGlyphs">NL</text><text class="num" x="719.5" y="227.9" font-size="42.1" style="fill:#fff;stroke:#fff" textLength="107.6" lengthAdjust="spacingAndGlyphs">13,337</text><text class="lab" x="786.8" y="69.1" font-size="15.6" style="fill:#fff;stroke:#fff;stroke-width:0.25" textLength="82.3" lengthAdjust="spacingAndGlyphs">Tamaulipas</text><text class="num" x="786.3" y="108.0" font-size="44.8" style="fill:#fff;stroke:#fff" textLength="108.6" lengthAdjust="spacingAndGlyphs">6,363</text><text class="lab" x="664.6" y="68.2" font-size="15.6" style="fill:#fff;stroke:#fff;stroke-width:0.25" textLength="65.4" lengthAdjust="spacingAndGlyphs">Coahuila</text><text class="num" x="663.8" y="107.4" font-size="45.4" style="fill:#fff;stroke:#fff" textLength="108.5" lengthAdjust="spacingAndGlyphs">8,516</text><text class="lab" x="576.0" y="138.4" font-size="15.6" style="fill:#fff;stroke:#fff;stroke-width:0.25" textLength="64.9" lengthAdjust="spacingAndGlyphs">Durango</text><text class="num" x="575.7" y="175.2" font-size="40.9" style="fill:#fff;stroke:#fff" textLength="78.6" lengthAdjust="spacingAndGlyphs">4,111</text><text class="lab" x="481.6" y="75.7" font-size="15.6" style="fill:#fff;stroke:#fff;stroke-width:0.25" textLength="86.9" lengthAdjust="spacingAndGlyphs">Chihuahua</text><text class="num" x="481.6" y="114.0" font-size="45.3" style="fill:#fff;stroke:#fff" textLength="105.5" lengthAdjust="spacingAndGlyphs">7,169</text><text class="lab" x="381.3" y="154.2" font-size="15.1" style="fill:#fff;stroke:#fff;stroke-width:0.25" textLength="52.0" lengthAdjust="spacingAndGlyphs">Sonora</text><text class="num" x="383.1" y="192.0" font-size="46.2" style="fill:#fff;stroke:#fff" textLength="100.4" lengthAdjust="spacingAndGlyphs">6,217</text></g>
<g id="logo">
<circle cx="1151.4" cy="48" r="28.5" fill="#d23530"/>
<path d="M1129.58,62.41 L1134.10,61.81 L1138.11,29.58 L1143.94,29.58 L1151.97,55.68 L1160.70,29.58 L1166.22,29.58 L1170.84,61.81 L1174.26,62.41 L1174.26,63.71 L1160.00,63.71 L1160.00,62.41 L1164.52,61.81 L1161.00,36.91 L1151.16,63.71 L1148.96,63.71 L1139.12,36.91 L1136.31,61.81 L1140.12,62.41 L1140.12,63.71 L1129.58,63.71 Z" fill="#fff" stroke="#fff" stroke-width="0.3"/>
<circle cx="1176.6" cy="22.8" r="2.6" fill="none" stroke="#d23530" stroke-width="0.7"/>
<text x="1176.6" y="24.6" font-family="Liberation Sans" font-weight="bold" font-size="4.5" fill="#d23530" text-anchor="middle">R</text>
</g>
<defs><clipPath id="tbclip"><path d="M1200,94 H1060.5 a9.5,9.5 0 0 0 -9.5,9.5 V198 a9.5,9.5 0 0 0 9.5,9.5 H1200 Z"/></clipPath></defs>
<g id="total">
<path d="M1200,94 H1060.5 a9.5,9.5 0 0 0 -9.5,9.5 V198 a9.5,9.5 0 0 0 9.5,9.5 H1200 Z" fill="#33a3c4"/>
<g clip-path="url(#tbclip)" fill="#1d7f9f" opacity="0.2">
<circle cx="1195" cy="238" r="91"/>
<g transform="translate(1195,238) rotate(-33)"><rect x="-5" y="-106" width="10" height="18"/><rect x="-11" y="-113" width="22" height="8" rx="4"/></g>
<g transform="translate(1195,238) rotate(-11)"><rect x="-5" y="-105" width="10" height="17"/><rect x="-11" y="-112" width="22" height="8" rx="4"/></g>
<g transform="translate(1195,238) rotate(-69)"><rect x="-5" y="-104" width="10" height="16"/><rect x="-11" y="-111" width="22" height="8" rx="4"/></g>
</g>
<text x="1059.6" y="119.4" font-family="Liberation Sans" font-weight="bold" font-size="13.2" fill="#fff" stroke="#fff" stroke-width="0.45" textLength="126.6" lengthAdjust="spacingAndGlyphs">CASOS ACTIVOS</text>
<text x="1059.8" y="139.3" font-family="Liberation Sans" font-weight="bold" font-size="18.9" fill="#fff" stroke="#fff" stroke-width="0.55" textLength="126.6" lengthAdjust="spacingAndGlyphs">ESTIMADOS</text>
<line x1="1054.8" y1="148.9" x2="1190.6" y2="148.9" stroke="#a9d8e6" stroke-width="0.9" stroke-dasharray="0.8,0.8"/>
<text x="1054.3" y="187.7" font-family="Liberation Sans" font-weight="bold" font-size="33.2" fill="#fff" stroke="#fff" stroke-width="0.9" textLength="140.5" lengthAdjust="spacingAndGlyphs">257,283</text>
</g>
<g id="footer">
<rect x="0" y="668.1" width="26.2" height="29.2" fill="#b9b9b9"/>
<text x="30.6" y="680.4" font-family="Liberation Sans" font-weight="bold" font-size="14" fill="#111" textLength="220.2" lengthAdjust="spacingAndGlyphs">Cifras hasta el corte más reciente de la</text>
<text x="30.6" y="695.8" font-family="Liberation Sans" font-weight="bold" font-size="14" fill="#111" textLength="302.8" lengthAdjust="spacingAndGlyphs">Secretaría de Salud, del 13 de enero a las 18:00 horas.</text>
</g>
</svg></body></html>
